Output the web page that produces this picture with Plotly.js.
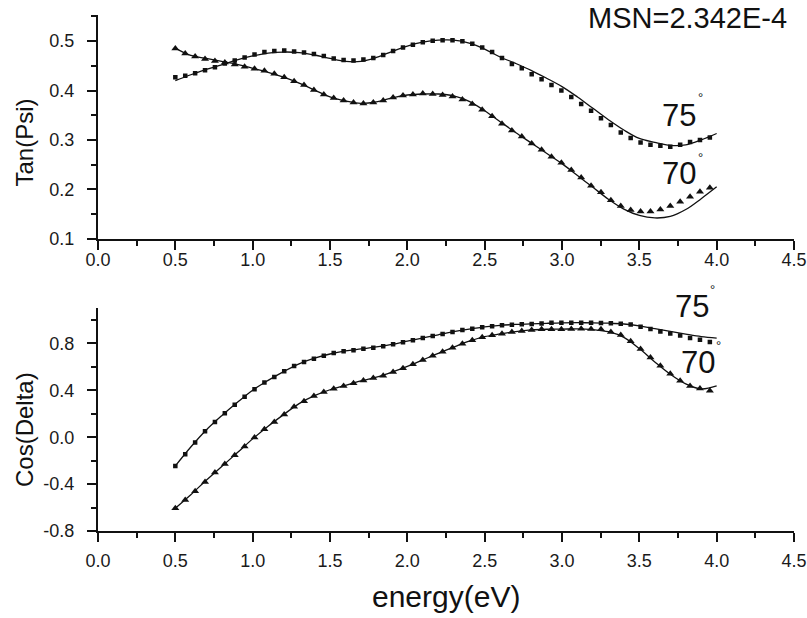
<!DOCTYPE html>
<html>
<head>
<meta charset="utf-8">
<script src="https://cdn.plot.ly/plotly-3.0.1.min.js"></script>
<style>html,body{margin:0;padding:0;background:#fff;}#chart{width:807px;height:618px;}</style>
</head>
<body>
<div id="chart"></div>
<script>
// measured energies (eV)
const energy = [0.5,0.564,0.628,0.692,0.756,0.82,0.884,0.948,1.012,1.076,1.14,1.204,1.268,1.332,1.396,1.46,1.524,1.588,1.652,1.716,
  1.78,1.844,1.908,1.972,2.036,2.1,2.164,2.228,2.292,2.356,2.42,2.484,2.548,2.612,2.676,2.74,2.804,2.868,2.932,2.996,
  3.06,3.124,3.188,3.252,3.316,3.38,3.444,3.508,3.572,3.636,3.7,3.764,3.828,3.892,3.956];
// fit curve energies (eV)
const energyFit = [0.5,0.6,0.7,0.8,0.9,1.0,1.1,1.2,1.3,1.4,1.5,1.6,1.7,1.8,1.9,2.0,2.1,2.2,2.3,2.4,
  2.5,2.6,2.7,2.8,2.9,3.0,3.1,3.2,3.3,3.4,3.5,3.6,3.7,3.8,3.9,4.0];

// Tan(Psi) measured
const tanPsi75 = [0.427,0.430,0.435,0.441,0.447,0.455,0.461,0.467,0.473,0.478,0.480,0.481,0.479,0.477,0.474,0.470,0.465,0.462,0.461,
  0.463,0.466,0.472,0.480,0.487,0.493,0.498,0.501,0.502,0.502,0.500,0.495,0.487,0.478,0.466,0.454,0.445,0.433,0.423,
  0.411,0.400,0.387,0.373,0.359,0.344,0.330,0.315,0.304,0.295,0.290,0.288,0.286,0.290,0.296,0.300,0.305];
const tanPsi70 = [0.485,0.475,0.469,0.464,0.460,0.457,0.453,0.448,0.444,0.440,0.434,0.427,0.419,0.411,0.401,0.392,0.385,0.380,0.376,
  0.374,0.376,0.380,0.386,0.390,0.392,0.394,0.393,0.391,0.388,0.382,0.373,0.361,0.348,0.333,0.319,0.307,0.293,0.280,
  0.266,0.254,0.239,0.224,0.207,0.194,0.178,0.166,0.158,0.155,0.155,0.159,0.166,0.175,0.185,0.195,0.203];
// Tan(Psi) fit
const tanPsiFit75 = [0.420,0.432,0.443,0.452,0.462,0.470,0.476,0.478,0.477,0.472,0.465,0.459,0.459,0.467,0.479,0.490,0.498,0.502,0.502,0.496,
  0.484,0.468,0.455,0.441,0.425,0.408,0.387,0.364,0.341,0.320,0.303,0.295,0.289,0.290,0.300,0.313];
const tanPsiFit70 = [0.486,0.471,0.465,0.459,0.453,0.445,0.437,0.427,0.415,0.401,0.387,0.379,0.374,0.377,0.385,0.391,0.393,0.393,0.389,0.378,
  0.359,0.337,0.315,0.294,0.273,0.252,0.228,0.204,0.180,0.160,0.147,0.142,0.145,0.159,0.181,0.205];

// Cos(Delta) measured
const cosDelta75 = [-0.245,-0.145,-0.046,0.051,0.130,0.205,0.278,0.346,0.409,0.466,0.514,0.563,0.608,0.642,0.670,0.696,0.719,0.733,0.742,0.755,
  0.764,0.776,0.793,0.810,0.827,0.846,0.864,0.881,0.898,0.915,0.926,0.938,0.946,0.955,0.960,0.963,0.966,0.970,
  0.977,0.977,0.977,0.977,0.977,0.975,0.973,0.969,0.961,0.943,0.923,0.902,0.885,0.867,0.846,0.832,0.812];
const cosDelta70 = [-0.605,-0.535,-0.460,-0.381,-0.302,-0.228,-0.153,-0.080,-0.003,0.068,0.130,0.193,0.261,0.307,0.352,0.386,0.414,0.437,0.460,0.484,
  0.505,0.525,0.557,0.588,0.622,0.659,0.696,0.730,0.764,0.798,0.827,0.853,0.870,0.883,0.898,0.906,0.915,0.921,
  0.921,0.921,0.923,0.926,0.923,0.921,0.897,0.872,0.818,0.752,0.680,0.609,0.541,0.482,0.438,0.416,0.397];
// Cos(Delta) fit
const cosDeltaFit75 = [-0.245,-0.083,0.062,0.184,0.296,0.401,0.485,0.560,0.626,0.674,0.710,0.736,0.753,0.770,0.792,0.819,0.847,0.874,0.900,0.922,
  0.941,0.954,0.962,0.967,0.972,0.976,0.977,0.976,0.973,0.966,0.950,0.926,0.903,0.880,0.859,0.846];
const cosDeltaFit70 = [-0.605,-0.490,-0.367,-0.250,-0.133,-0.014,0.094,0.193,0.287,0.355,0.405,0.443,0.480,0.512,0.555,0.604,0.660,0.716,0.769,0.819,
  0.858,0.881,0.901,0.915,0.921,0.922,0.925,0.918,0.900,0.852,0.756,0.642,0.537,0.455,0.412,0.438];

// tick labels
const xTickVals = [0,0.5,1,1.5,2,2.5,3,3.5,4,4.5];
const xTickText = ['0.0','0.5','1.0','1.5','2.0','2.5','3.0','3.5','4.0','4.5'];
const tanTickVals = [0.1,0.2,0.3,0.4,0.5];
const tanTickText = ['0.1','0.2','0.3','0.4','0.5'];
const cosTickVals = [-0.8,-0.4,0,0.4,0.8];
const cosTickText = ['-0.8','-0.4','0.0','0.4','0.8'];

const FONT = 'Liberation Sans, Arial, sans-serif';
const INK = '#111';

function lineTrace(x, y, xa, ya) {
  return {x: x, y: y, xaxis: xa, yaxis: ya, type: 'scatter', mode: 'lines',
    line: {color: INK, width: 1.3, shape: 'spline', smoothing: 1}, hoverinfo: 'skip', showlegend: false};
}
function markTrace(x, y, xa, ya, sym, size) {
  return {x: x, y: y, xaxis: xa, yaxis: ya, type: 'scatter', mode: 'markers',
    marker: {symbol: sym, size: size, color: INK, line: {width: 0}}, showlegend: false};
}

const data = [
  lineTrace(energyFit, tanPsiFit75, 'x', 'y'),
  lineTrace(energyFit, tanPsiFit70, 'x', 'y'),
  markTrace(energy, tanPsi75, 'x', 'y', 'square', 4.5),
  markTrace(energy, tanPsi70, 'x', 'y', 'triangle-up', 7),
  lineTrace(energyFit, cosDeltaFit75, 'x2', 'y2'),
  lineTrace(energyFit, cosDeltaFit70, 'x2', 'y2'),
  markTrace(energy, cosDelta75, 'x2', 'y2', 'square', 4.5),
  markTrace(energy, cosDelta70, 'x2', 'y2', 'triangle-up', 7)
];

function axisBase() {
  return {showline: true, linewidth: 2, linecolor: INK, ticks: 'outside', ticklen: 9, tickwidth: 2, tickcolor: INK,
    showgrid: false, zeroline: false, tickfont: {family: FONT, size: 18, color: '#1a1a1a'}, tickmode: 'array'};
}
const xMinor = {tickmode: 'linear', tick0: 0, dtick: 0.25, ticklen: 5, tickwidth: 2, tickcolor: INK, ticks: 'outside', showgrid: false};
const xa1 = Object.assign(axisBase(), {domain: [0, 1], anchor: 'y', range: [0, 4.5], tickvals: xTickVals, ticktext: xTickText,
  ticklabelstandoff: -5, minor: xMinor});
const xa2 = Object.assign(axisBase(), {domain: [0, 1], anchor: 'y2', range: [0, 4.5], tickvals: xTickVals, ticktext: xTickText,
  ticklabelstandoff: 3, minor: xMinor});
const ya1 = Object.assign(axisBase(), {domain: [0.5665, 1], anchor: 'x', range: [0.1, 0.553], tickvals: tanTickVals, ticktext: tanTickText,
  ticklabelstandoff: 9,
  minor: {tickmode: 'linear', tick0: 0.1, dtick: 0.05, ticklen: 5, tickwidth: 2, tickcolor: INK, ticks: 'outside', showgrid: false}});
const ya2 = Object.assign(axisBase(), {domain: [0, 0.4316], anchor: 'x2', range: [-0.8, 1.1], tickvals: cosTickVals, ticktext: cosTickText,
  ticklabelstandoff: 9,
  minor: {tickmode: 'linear', tick0: -0.8, dtick: 0.2, ticklen: 5, tickwidth: 2, tickcolor: INK, ticks: 'outside', showgrid: false}});

function label(text, x, y, size, opts) {
  return Object.assign({text: text, x: x, y: y, xref: 'paper', yref: 'paper', showarrow: false,
    xanchor: 'center', yanchor: 'middle', font: {family: FONT, size: size, color: '#111'}}, opts || {});
}

const layout = {
  width: 807, height: 618,
  margin: {l: 98, r: 13, t: 15, b: 87},
  paper_bgcolor: '#ffffff', plot_bgcolor: '#ffffff',
  showlegend: false,
  xaxis: xa1, yaxis: ya1, xaxis2: xa2, yaxis2: ya2,
  annotations: [
    label('MSN=2.342E-4', 0.9928, 0.9942, 29, {xanchor: 'right'}),
    label('75', 0.8348, 0.8062, 31),
    label('°', 0.865, 0.8397, 13),
    label('70', 0.8348, 0.6919, 31),
    label('°', 0.866, 0.7235, 13),
    label('75', 0.8534, 0.4360, 31),
    label('°', 0.8832, 0.4684, 13),
    label('70', 0.8621, 0.3266, 31),
    label('°', 0.8912, 0.3591, 13),
    label('Tan(Psi)', -0.1063, 0.7529, 24, {textangle: -90}),
    label('Cos(Delta)', -0.1063, 0.1957, 24, {textangle: -90}),
    label('energy(eV)', 0.5, -0.1279, 30)
  ]
};

Plotly.newPlot('chart', data, layout, {staticPlot: true, displayModeBar: false});
</script>
</body>
</html>
